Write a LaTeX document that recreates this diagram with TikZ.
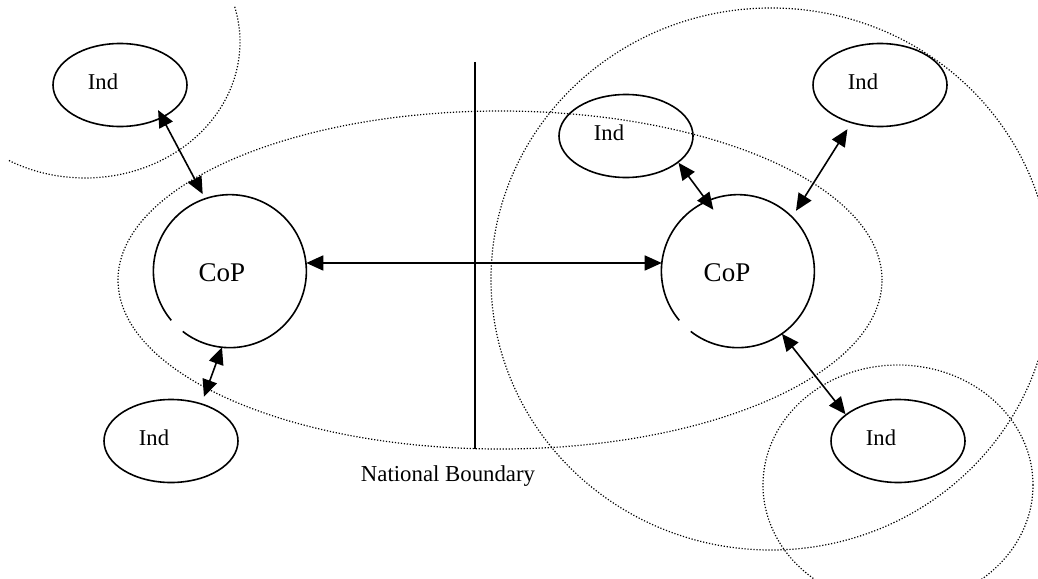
\documentclass[tikz,border=0pt]{standalone}
\usepackage{fontspec}
\setmainfont{Liberation Serif}
\usetikzlibrary{arrows.meta,shapes.geometric}
\begin{document}
\begin{tikzpicture}[x=1pt,y=-1pt,
  dotline/.style={line width=1.2pt, dash pattern=on 1.2pt off 1.8pt},
  indnode/.style={ellipse, draw, line width=1.6pt, minimum width=134pt, minimum height=83pt, inner sep=0pt, font=\fontsize{22.6}{26}\selectfont},
  copnode/.style={circle, minimum size=153pt, inner sep=0pt, font=\fontsize{27}{31}\selectfont},
  gaparc/.style={line width=1.6pt},
  link/.style={line width=1.6pt, {Triangle[length=17pt,width=15pt]}-{Triangle[length=17pt,width=15pt]}},
  boundary/.style={line width=1.4pt},
  lbl/.style={anchor=base, inner sep=0pt, font=\fontsize{22.8}{27}\selectfont}]
\useasboundingbox (0,0) rectangle (1038,578);
\clip (0,0) rectangle (1038,578);

% dotted groupings
\draw[dotline] plot[domain=-15:120, samples=150] ({85+155*cos(\x)}, {42+136*sin(\x)});
\draw[dotline] (500,280) ellipse [x radius=382pt, y radius=169pt];
\draw[dotline] (771,279) ellipse [x radius=280pt, y radius=271pt];
\draw[dotline] (898,485) ellipse [x radius=135pt, y radius=120pt];

% national boundary
\coordinate (bt) at (475,62);
\coordinate (bb) at (475,449);
\draw[boundary] (bt) -- (bb);
\node[lbl] (nb) at (448,481) {National Boundary};

% individuals
\node[indnode] (ind1) at (120,85) {\raisebox{6pt}{Ind}\kern34pt\null};
\node[indnode] (ind2) at (171,441) {\raisebox{6pt}{Ind}\kern34pt\null};
\node[indnode] (ind3) at (880,85) {\raisebox{6pt}{Ind}\kern34pt\null};
\node[indnode] (ind4) at (626,136) {\raisebox{6pt}{Ind}\kern34pt\null};
\node[indnode] (ind5) at (898,441) {\raisebox{6pt}{Ind}\kern34pt\null};

% communities of practice
\node[copnode] (cop1) at (230,271) {\rule{0pt}{22pt}CoP\kern16pt\null};
\node[copnode] (cop2) at (738,271) {\rule{0pt}{22pt}CoP\kern22pt\null};
\draw[gaparc] (cop1.232) arc[start angle=232, end angle=580, radius=76.5pt];
\draw[gaparc] (cop2.232) arc[start angle=232, end angle=580, radius=76.5pt];

% links
\draw[link, shorten <=-9pt, shorten >=5pt] (ind1.-38) -- (cop1.109);
\draw[link, shorten <=7pt] (ind2.51) -- (cop1.-96);
\draw[link] (cop1.6) -- (cop2.174);
\draw[link, shorten >=-11pt] (ind4.-27) -- (cop2.114);
\draw[link, shorten <=7pt, shorten >=7pt] (ind3.233) -- (cop2.45);
\draw[link] (cop2.-55) -- (ind5.153);
\end{tikzpicture}
\end{document}
